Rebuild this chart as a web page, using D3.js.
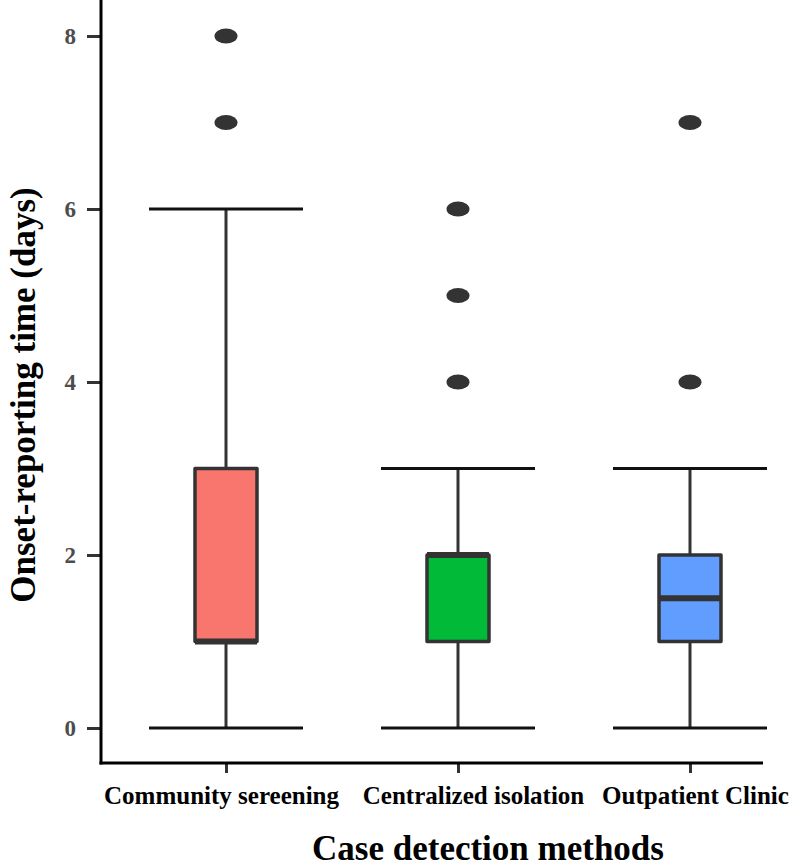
<!DOCTYPE html>
<html><head><meta charset="utf-8">
<script src="https://cdn.jsdelivr.net/npm/d3@7"></script>
<style>body{margin:0;background:#fff}</style>
</head><body>
<svg id="c" width="791" height="867"></svg>
<script>
const categories = ["Community sereening", "Centralized isolation", "Outpatient Clinic"];
const colors = ["#F8766D", "#00BA38", "#619CFF"];
const lowerWhisker = [0, 0, 0];
const q1 = [1, 1, 1];
const median = [1, 2, 1.5];
const q3 = [3, 2, 2];
const upperWhisker = [6, 3, 3];
const outliers = [[7, 8], [4, 5, 6], [4, 7]];
const yTicks = [0, 2, 4, 6, 8];

const svg = d3.select("#c");
const x = d3.scalePoint().domain(categories).range([226, 690]);
const y = d3.scaleLinear().domain([0, 8]).range([728, 36]);
const axLeft = 101, axBottom = 763, axRight = 763, axTop = 0;
const boxHalf = 31, capHalf = 77;
const labelShift = [-5, 15, 5];
const serif = "Liberation Serif, Times New Roman, serif";

// axes
const gy = svg.append("g").attr("transform", `translate(${axLeft},0)`)
  .call(d3.axisLeft(y).tickValues(yTicks).tickSize(14).tickPadding(11).tickFormat(d3.format("d")));
gy.select(".domain").remove();
gy.selectAll(".tick line").attr("stroke", "#333").attr("stroke-width", 3);
gy.selectAll(".tick text").attr("fill", "#4d4d4d").attr("font-family", serif)
  .attr("font-weight", "bold").attr("font-size", 23);

const gx = svg.append("g").attr("transform", `translate(0,${axBottom})`)
  .call(d3.axisBottom(x).tickSize(10).tickPadding(13));
gx.select(".domain").remove();
gx.selectAll(".tick line").attr("stroke", "#333").attr("stroke-width", 3);
gx.selectAll(".tick text").attr("fill", "#000").attr("font-family", serif)
  .attr("font-weight", "bold").attr("font-size", 25)
  .attr("dx", (d, i) => labelShift[i]);

svg.append("line").attr("x1", axLeft).attr("x2", axLeft).attr("y1", axTop).attr("y2", axBottom + 1.5)
  .attr("stroke", "#000").attr("stroke-width", 3);
svg.append("line").attr("x1", axLeft - 1.5).attr("x2", axRight).attr("y1", axBottom).attr("y2", axBottom)
  .attr("stroke", "#000").attr("stroke-width", 3);

// boxes
categories.forEach((c, i) => {
  const cx = x(c);
  const g = svg.append("g");
  g.append("line").attr("x1", cx).attr("x2", cx).attr("y1", y(upperWhisker[i])).attr("y2", y(q3[i]))
    .attr("stroke", "#333").attr("stroke-width", 3);
  g.append("line").attr("x1", cx).attr("x2", cx).attr("y1", y(q1[i])).attr("y2", y(lowerWhisker[i]))
    .attr("stroke", "#333").attr("stroke-width", 3);
  [upperWhisker[i], lowerWhisker[i]].forEach(v => {
    g.append("line").attr("x1", cx - capHalf).attr("x2", cx + capHalf).attr("y1", y(v)).attr("y2", y(v))
      .attr("stroke", "#111").attr("stroke-width", 3);
  });
  g.append("rect").attr("x", cx - boxHalf).attr("width", boxHalf * 2)
    .attr("y", y(q3[i])).attr("height", y(q1[i]) - y(q3[i]))
    .attr("fill", colors[i]).attr("stroke", "#333").attr("stroke-width", 3.5).attr("stroke-linejoin", "round");
  g.append("line").attr("x1", cx - boxHalf).attr("x2", cx + boxHalf).attr("y1", y(median[i])).attr("y2", y(median[i]))
    .attr("stroke", "#333").attr("stroke-width", 6);
  outliers[i].forEach(v => {
    g.append("ellipse").attr("cx", cx).attr("cy", y(v)).attr("rx", 11.5).attr("ry", 7.5).attr("fill", "#333");
  });
});

// titles
svg.append("text").attr("x", 488).attr("y", 860).attr("text-anchor", "middle")
  .attr("font-family", serif).attr("font-weight", "bold").attr("font-size", 35)
  .text("Case detection methods");
svg.append("text").attr("transform", "translate(35,395) rotate(-90)").attr("text-anchor", "middle")
  .attr("font-family", serif).attr("font-weight", "bold").attr("font-size", 35)
  .text("Onset-reporting time (days)");
</script>
</body></html>
